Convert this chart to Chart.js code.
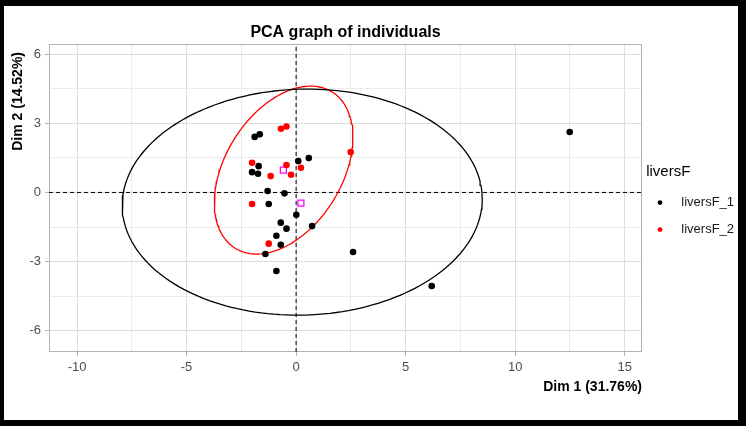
<!DOCTYPE html>
<html>
<head>
<meta charset="utf-8">
<script src="https://cdn.jsdelivr.net/npm/chart.js@4.4.0/dist/chart.umd.min.js"></script>
<style>
  html, body { margin: 0; padding: 0; background: #fff; }
  #frame {
    width: 746px; height: 426px; box-sizing: border-box;
    border-style: solid; border-color: #000; border-width: 6px 8px 6px 4px;
  }
  #frame canvas { display: block; }
</style>
</head>
<body>
<div id="frame"><canvas id="pca" width="734" height="414"></canvas></div>
<script>
// Individus (coordonnées)
const groupNames = ['liversF_1', 'liversF_2'];

const group1X = [-1.89, -1.66, -1.71, -2.01, -1.74, 0.10, 0.58, -1.30, -0.53, -1.25, 0.01,
                 -0.70, -0.44, 0.73, -0.90, -0.70, -1.40, 2.60, -0.90, 12.49, 6.19];
const group1Y = [2.41, 2.52, 1.14, 0.88, 0.81, 1.36, 1.49, 0.06, -0.04, -0.50, -0.97,
                 -1.31, -1.57, -1.46, -1.88, -2.27, -2.67, -2.58, -3.41, 2.62, -4.06];

const group2X = [-0.69, -0.44, 2.49, -2.01, -0.44, 0.22, -1.16, -0.23, -2.01, -1.25];
const group2Y = [2.76, 2.86, 1.75, 1.29, 1.19, 1.07, 0.71, 0.77, -0.50, -2.22];

// Barycentres des groupes
const centroidX = [0.22, -0.58];
const centroidY = [-0.46, 0.97];

// Ellipses de confiance : centre, demi-axes, angle (degrés)
const ellipseCenterX = [0.28, -0.57];
const ellipseCenterY = [-0.42, 0.97];
const ellipseSemiMajor = [8.22, 4.05];
const ellipseSemiMinor = [4.90, 2.62];
const ellipseAngle = [1.5, 55];

// Axes
const xLimits = [-11.28, 15.79];
const yLimits = [-6.92, 6.43];
const xTickLabels = [-10, -5, 0, 5, 10, 15];
const yTickLabels = [-6, -3, 0, 3, 6];

const toPoints = (xs, ys) => xs.map((x, i) => ({ x: x, y: ys[i] }));

function ellipseOutline(k) {
    const t = ellipseAngle[k] * Math.PI / 180;
    const pts = [];
    for (let s = 0; s <= 180; s++) {
        const a = s / 180 * 2 * Math.PI;
        const ex = ellipseSemiMajor[k] * Math.cos(a);
        const ey = ellipseSemiMinor[k] * Math.sin(a);
        pts.push({
            x: ellipseCenterX[k] + ex * Math.cos(t) - ey * Math.sin(t),
            y: ellipseCenterY[k] + ex * Math.sin(t) + ey * Math.cos(t)
        });
    }
    return pts;
}

const isLabelled = (list, v) => list.some(t => Math.abs(t - v) < 1e-9);

Chart.defaults.font.family = "'Liberation Sans', Arial, sans-serif";

// Cadre gris du panneau
const panelBorder = {
    id: 'panelBorder',
    beforeDatasetsDraw(chart) {
        const { ctx, chartArea: a } = chart;
        const l = Math.round(a.left) + 0.5, t = Math.round(a.top) + 0.5;
        const r = Math.round(a.right) - 0.5, b = Math.round(a.bottom) - 0.5;
        ctx.save();
        ctx.strokeStyle = '#B3B3B3';
        ctx.lineWidth = 1;
        ctx.strokeRect(l, t, r - l, b - t);
        ctx.restore();
    }
};

const gridColor = list => ctx => (ctx.tick && isLabelled(list, ctx.tick.value)) ? '#DCDCDC' : '#EBEBEB';
const tickMarkColor = list => ctx => (ctx.tick && isLabelled(list, ctx.tick.value)) ? '#B3B3B3' : 'rgba(0,0,0,0)';

const config = {
    type: 'scatter',
    data: {
        datasets: [
            {
                label: groupNames[0],
                data: toPoints(group1X, group1Y),
                backgroundColor: '#000000',
                borderColor: '#000000',
                borderWidth: 0,
                pointRadius: 3.3
            },
            {
                label: groupNames[1],
                data: toPoints(group2X, group2Y),
                backgroundColor: '#FF0000',
                borderColor: '#FF0000',
                borderWidth: 0,
                pointRadius: 3.3
            },
            {
                label: 'centres',
                data: toPoints(centroidX, centroidY),
                pointStyle: 'rect',
                pointRadius: 4.2,
                backgroundColor: 'rgba(0,0,0,0)',
                borderColor: '#FF00FF',
                borderWidth: 1.3
            },
            {
                label: 'ellipse 1',
                data: ellipseOutline(0),
                showLine: true,
                pointRadius: 0,
                borderColor: '#000000',
                borderWidth: 1.3,
                fill: false
            },
            {
                label: 'ellipse 2',
                data: ellipseOutline(1),
                showLine: true,
                pointRadius: 0,
                borderColor: '#FF0000',
                borderWidth: 1.3,
                fill: false
            },
            {
                label: 'axe 1',
                data: [{ x: xLimits[0], y: 0 }, { x: xLimits[1], y: 0 }],
                showLine: true,
                pointRadius: 0,
                borderColor: '#000000',
                borderWidth: 1,
                borderDash: [4, 3]
            },
            {
                label: 'axe 2',
                data: [{ x: 0, y: yLimits[0] }, { x: 0, y: yLimits[1] }],
                showLine: true,
                pointRadius: 0,
                borderColor: '#000000',
                borderWidth: 1,
                borderDash: [4, 3]
            }
        ]
    },
    options: {
        responsive: false,
        animation: false,
        devicePixelRatio: 1,
        events: [],
        layout: { padding: 0 },
        scales: {
            x: {
                type: 'linear',
                min: xLimits[0],
                max: xLimits[1],
                border: { display: false },
                grid: {
                    color: gridColor(xTickLabels),
                    tickColor: tickMarkColor(xTickLabels),
                    tickLength: 4,
                    lineWidth: 1
                },
                ticks: {
                    stepSize: 2.5,
                    includeBounds: false,
                    autoSkip: false,
                    maxRotation: 0,
                    padding: 4,
                    color: '#4D4D4D',
                    font: { size: 13 },
                    callback: v => isLabelled(xTickLabels, v) ? String(Math.round(v)) : ''
                },
                title: {
                    display: true,
                    text: 'Dim 1 (31.76%)',
                    align: 'end',
                    color: '#000000',
                    font: { size: 14, weight: 'bold' },
                    padding: { top: 0, bottom: 24.6 }
                },
                afterFit: s => { s.height = 68; }
            },
            y: {
                type: 'linear',
                min: yLimits[0],
                max: yLimits[1],
                border: { display: false },
                grid: {
                    color: gridColor(yTickLabels),
                    tickColor: tickMarkColor(yTickLabels),
                    tickLength: 4,
                    lineWidth: 1
                },
                ticks: {
                    stepSize: 1.5,
                    includeBounds: false,
                    autoSkip: false,
                    padding: 4,
                    color: '#4D4D4D',
                    font: { size: 13 },
                    callback: v => isLabelled(yTickLabels, v) ? String(Math.round(v)) : ''
                },
                title: {
                    display: true,
                    text: 'Dim 2 (14.52%)  ',
                    align: 'end',
                    color: '#000000',
                    font: { size: 14, weight: 'bold' },
                    padding: { top: 5.6, bottom: 0 }
                },
                afterFit: s => { s.width = 45; }
            }
        },
        plugins: {
            title: {
                display: true,
                text: 'PCA graph of individuals',
                fullSize: false,
                color: '#000000',
                font: { size: 16, weight: 'bold' },
                padding: { top: 17, bottom: 2 }
            },
            legend: {
                display: true,
                position: 'right',
                fullSize: false,
                maxWidth: 96,
                title: {
                    display: true,
                    text: ' liversF',
                    position: 'start',
                    color: '#000000',
                    font: { size: 15 },
                    padding: { top: 18, bottom: 0 }
                },
                labels: {
                    usePointStyle: true,
                    boxWidth: 8,
                    boxHeight: 3.4,
                    padding: 14,
                    color: '#1A1A1A',
                    font: { size: 13 },
                    generateLabels: chart => Chart.defaults.plugins.legend.labels.generateLabels(chart)
                        .filter(item => item.datasetIndex < 2)
                        .map(item => Object.assign(item, { text: '   ' + item.text, lineWidth: 0 }))
                }
            },
            tooltip: { enabled: false }
        }
    },
    plugins: [panelBorder]
};

const pcaChart = new Chart(document.getElementById('pca'), config);
</script>
</body>
</html>
